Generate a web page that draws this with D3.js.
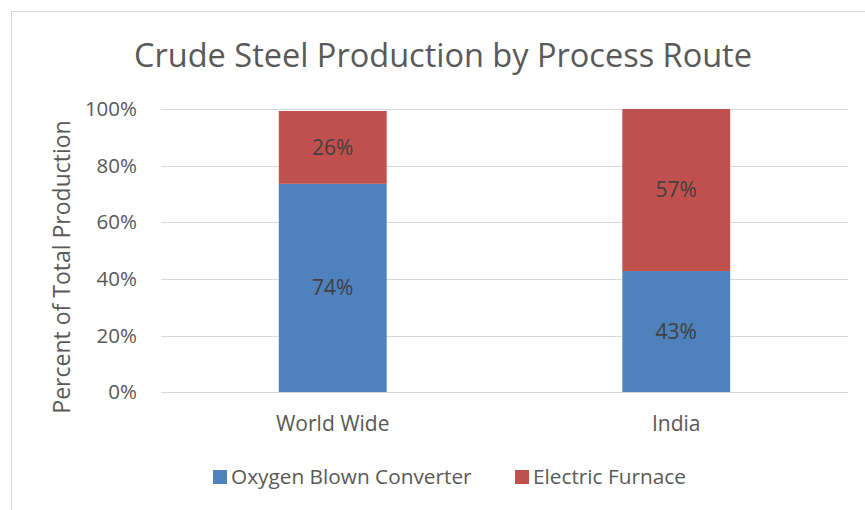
<!DOCTYPE html>
<html>
<head>
<meta charset="utf-8">
<script src="https://cdn.jsdelivr.net/npm/d3@7"></script>
<style>
  body { margin: 0; background: #fff; }
  text { font-family: "Open Sans", Lato, sans-serif; }
</style>
</head>
<body>
<script>
// chart data
const categories = ["World Wide", "India"];
const seriesNames = ["Oxygen Blown Converter", "Electric Furnace"];
const oxygenValues = [73.6, 42.8];
const electricValues = [25.7, 57.2];
const labelsOxygen = ["74%", "43%"];
const labelsElectric = ["26%", "57%"];
const yTicks = [0, 20, 40, 60, 80, 100];
const colors = ["#4f81bd", "#c0504d"];

const width = 865, height = 510;
const svg = d3.select("body").append("svg")
    .attr("width", width)
    .attr("height", height);

// chart area border
svg.append("rect")
    .attr("x", 11.5).attr("y", 11.5)
    .attr("width", 870).attr("height", 520)
    .attr("fill", "#fff")
    .attr("stroke", "#d9d9d9");

const x = d3.scaleBand()
    .domain(categories)
    .range([161, 848])
    .paddingInner(0.686)
    .paddingOuter(0.343);

const y = d3.scaleLinear()
    .domain([0, 100])
    .range([392.3, 109]);

// gridlines
svg.append("g").selectAll("line")
    .data(yTicks)
    .enter().append("line")
    .attr("x1", 161).attr("x2", 848)
    .attr("y1", d => Math.round(y(d)) + 0.5)
    .attr("y2", d => Math.round(y(d)) + 0.5)
    .attr("stroke", "#d9d9d9")
    .attr("stroke-width", 1);

// y tick labels
svg.append("g").selectAll("text")
    .data(yTicks)
    .enter().append("text")
    .attr("x", 137)
    .attr("y", d => y(d))
    .attr("dy", "0.35em")
    .attr("text-anchor", "end")
    .style("font-size", "20.5px")
    .style("fill", "#595959")
    .text(d => d + "%");

// stacked bars
const rows = categories.map((c, i) => ({ cat: c, oxygen: oxygenValues[i], electric: electricValues[i] }));
const stacked = d3.stack().keys(["oxygen", "electric"])(rows);
const labels = [labelsOxygen, labelsElectric];

const layer = svg.append("g").selectAll("g")
    .data(stacked)
    .enter().append("g")
    .attr("fill", (d, i) => colors[i]);

layer.selectAll("rect")
    .data(d => d)
    .enter().append("rect")
    .attr("x", d => x(d.data.cat))
    .attr("width", x.bandwidth())
    .attr("y", d => y(d[1]))
    .attr("height", d => y(d[0]) - y(d[1]));

layer.each(function (s, si) {
    d3.select(this).selectAll("text")
        .data(s)
        .enter().append("text")
        .attr("x", d => x(d.data.cat) + x.bandwidth() / 2)
        .attr("y", d => y((d[0] + d[1]) / 2))
        .attr("dy", "0.35em")
        .attr("text-anchor", "middle")
        .style("font-size", "21px")
        .style("fill", "#404040")
        .text((d, i) => labels[si][i]);
});

// baseline
svg.append("line")
    .attr("x1", 161).attr("x2", 848)
    .attr("y1", Math.round(y(0)) + 0.5).attr("y2", Math.round(y(0)) + 0.5)
    .attr("stroke", "#d9d9d9");

// x labels
svg.append("g").selectAll("text")
    .data(categories)
    .enter().append("text")
    .attr("x", d => x(d) + x.bandwidth() / 2)
    .attr("y", 431)
    .attr("text-anchor", "middle")
    .style("font-size", "21px")
    .style("fill", "#595959")
    .text(d => d);

// title
svg.append("text")
    .attr("x", 443)
    .attr("y", 67)
    .attr("text-anchor", "middle")
    .style("font-size", "32.5px")
    .style("fill", "#595959")
    .text("Crude Steel Production by Process Route");

// y axis title
svg.append("text")
    .attr("transform", "translate(70,267) rotate(-90)")
    .attr("text-anchor", "middle")
    .style("font-size", "23px")
    .style("fill", "#595959")
    .text("Percent of Total Production");

// legend
const legend = svg.append("g").selectAll("g")
    .data(seriesNames)
    .enter().append("g")
    .attr("transform", (d, i) => "translate(" + [213, 515][i] + ",470)");

legend.append("rect")
    .attr("width", 14).attr("height", 14)
    .attr("fill", (d, i) => colors[i]);

legend.append("text")
    .attr("x", 18)
    .attr("y", 7)
    .attr("dy", "0.35em")
    .style("font-size", "20.8px")
    .style("fill", "#595959")
    .text(d => d);
</script>
</body>
</html>
